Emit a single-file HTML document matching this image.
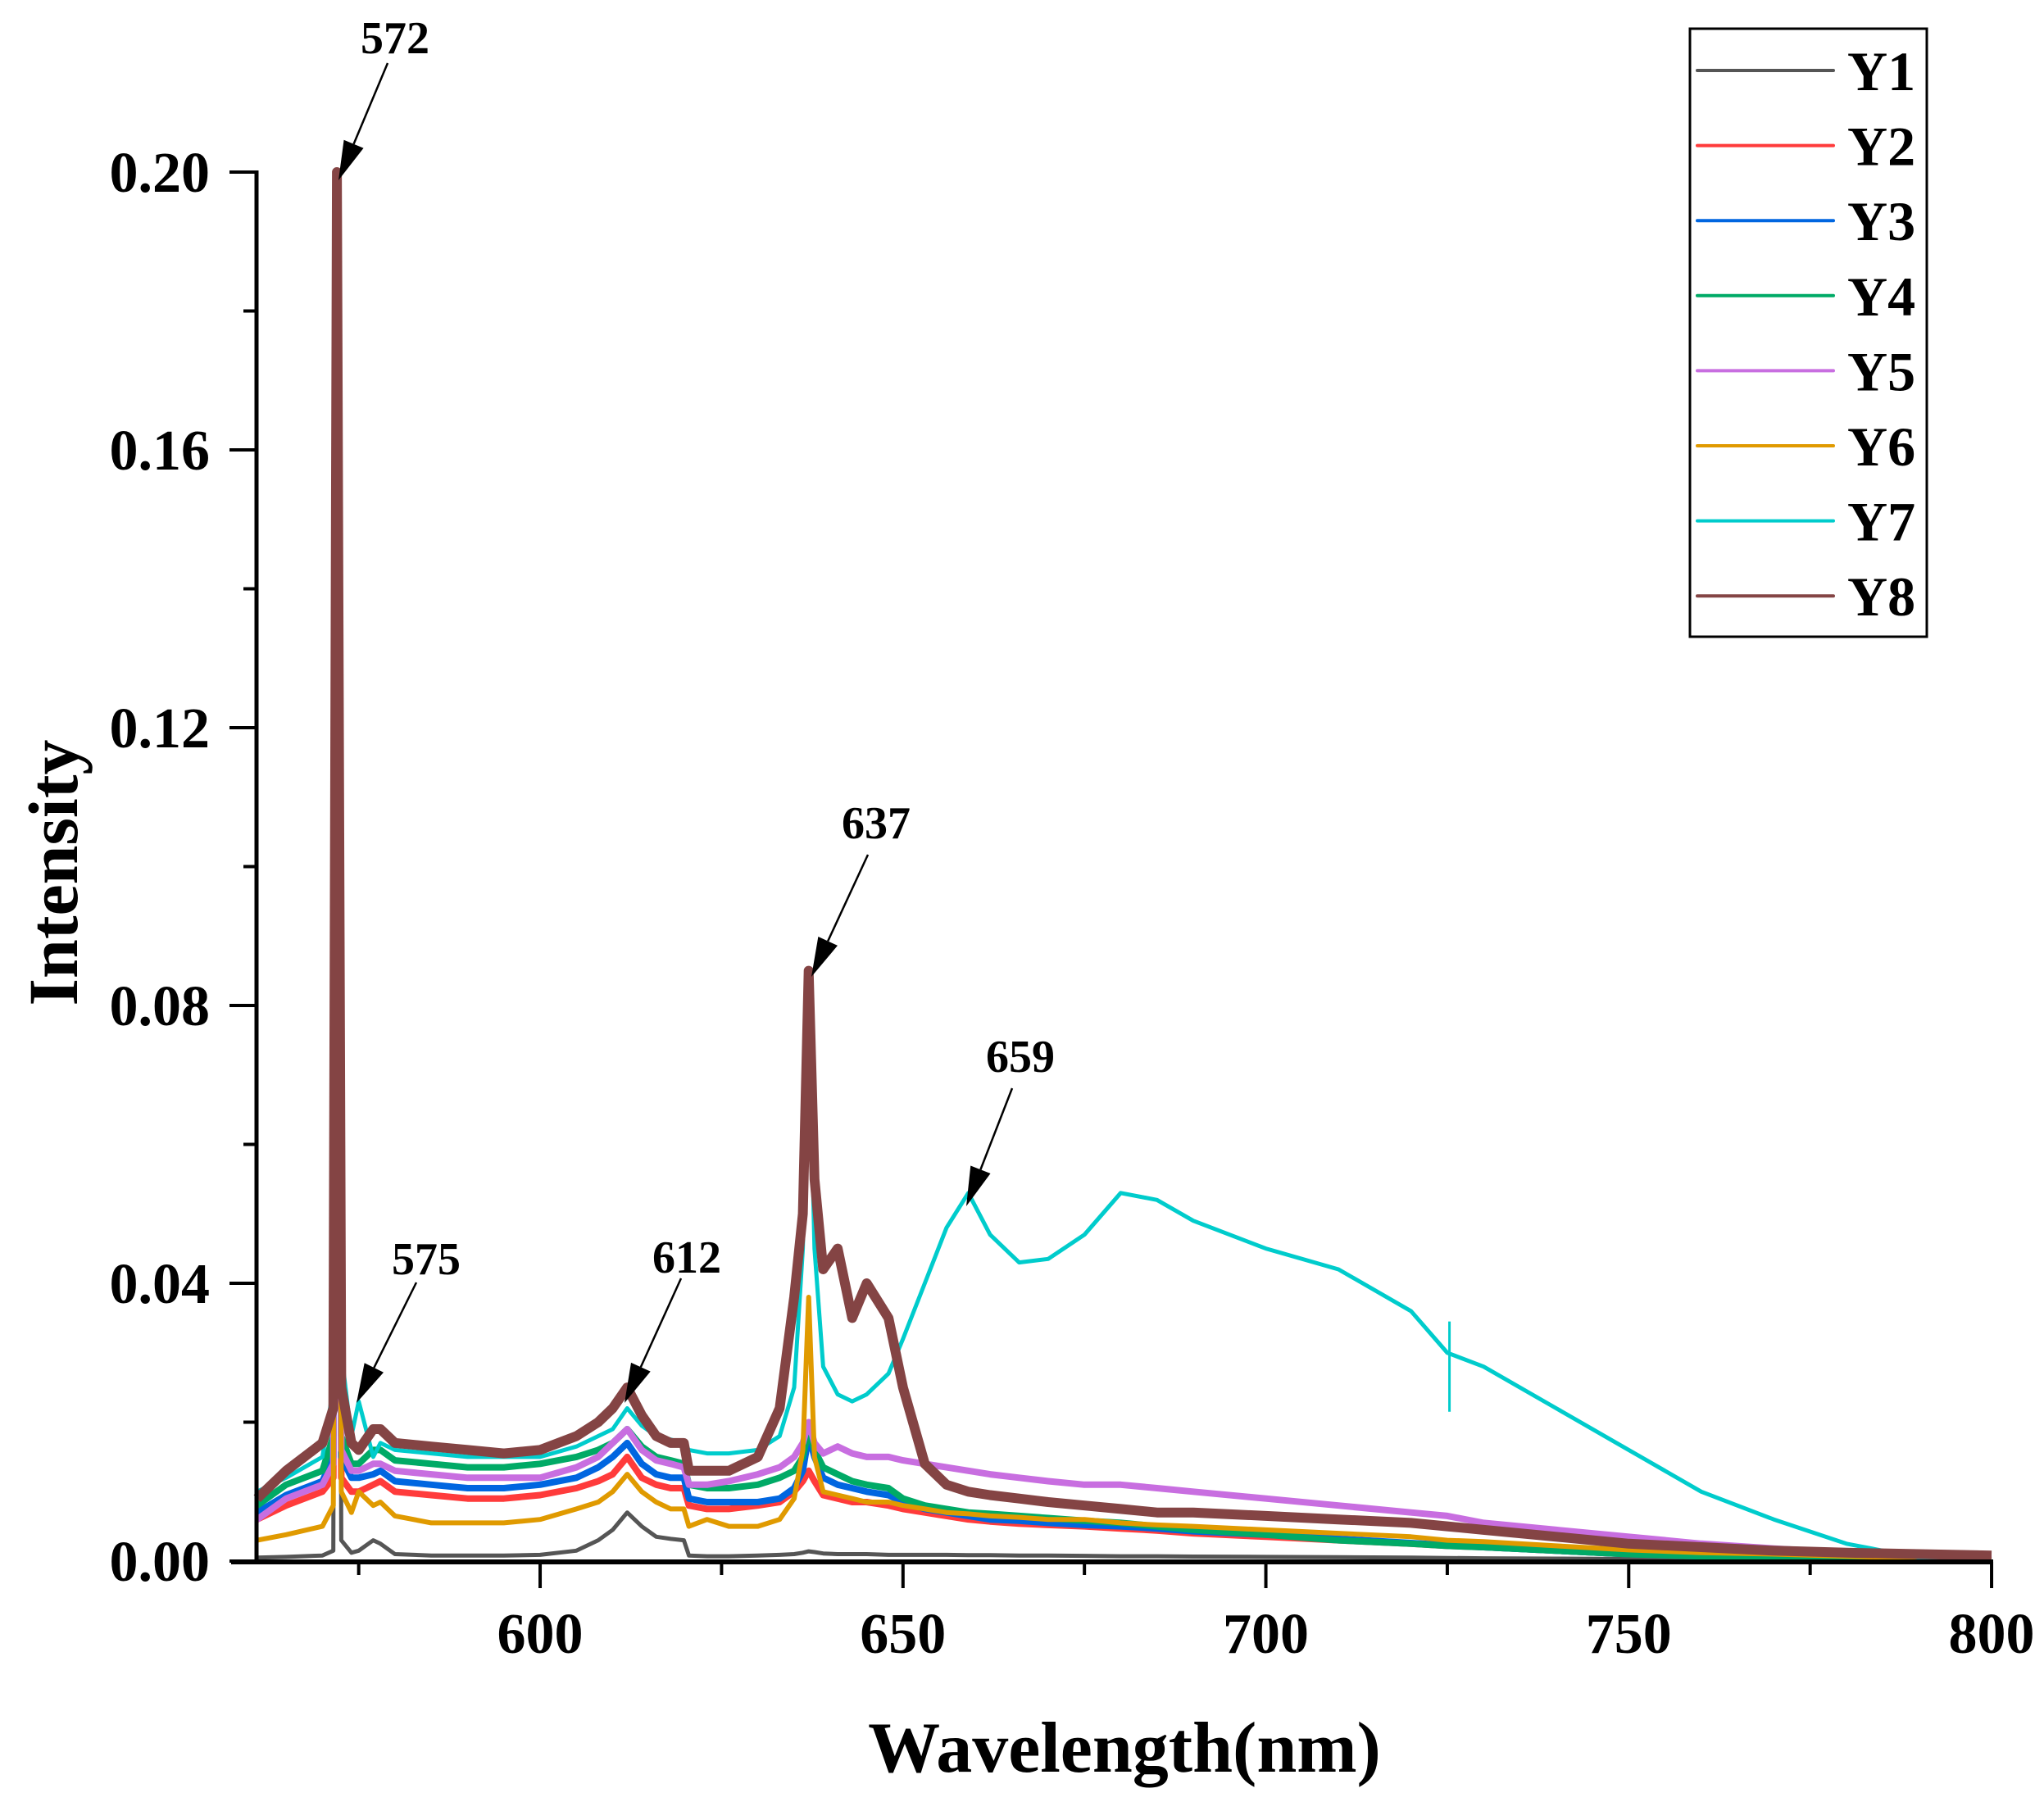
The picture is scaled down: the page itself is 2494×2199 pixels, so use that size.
<!DOCTYPE html>
<html><head><meta charset="utf-8"><style>
html,body{margin:0;padding:0;background:#fff;}
svg{display:block;}
text{font-family:"Liberation Serif",serif;font-weight:bold;fill:#000;}
</style></head><body>
<svg id="chart" width="2494" height="2199" viewBox="0 0 2494 2199" xmlns="http://www.w3.org/2000/svg">
<g id="series"></g>
<g id="axes"></g>
<g id="annotations"></g>
<g id="legend"></g>
</svg>
<script>
const wavelengths=[561,565,570,571.5,572,572.6,574,575,577,578,580,585,590,595,600,605,608,610,612,614,616,618,619.8,620.5,623,626,630,633,635,636.2,637,637.8,639,641,643,645,648,650,653,656,659,662,666,670,675,680,685,690,700,710,720,725,730,740,750,760,770,780,790,800];
// values in units of 0.001
const y1=[0.5,0.6,0.8,1.5,200,3,1.2,1.5,3,2.5,1,0.8,0.8,0.8,0.9,1.5,3,4.5,7,5,3.5,3.2,3,0.8,0.7,0.7,0.8,0.9,1,1.2,1.4,1.3,1.1,1,1,1,0.9,0.9,0.9,0.9,0.85,0.85,0.8,0.8,0.75,0.7,0.7,0.65,0.6,0.55,0.5,0.45,0.4,0.35,0.3,0.25,0.2,0.15,0.1,0.1];
const y2=[6,8,10,12,200,12,10,10,11,11.5,10,9.5,9,9,9.5,10.5,11.5,12.5,15,12,11,10.5,10.5,8,7.5,7.5,8,8.5,10,11.5,13,11.5,9.5,9,8.5,8.5,8,7.5,7,6.5,6,5.7,5.4,5.2,5,4.7,4.4,4,3.5,3,2.5,2.2,2,1.5,1,0.7,0.5,0.3,0.2,0.1];
const y3=[7,9.5,11.5,15,200,15,12,12,12.5,13,11.5,11,10.5,10.5,11,12,13.5,15,17,14,12.5,12,12,9,8.5,8.5,8.5,9,10.5,13,18,15,12,11,10.5,10,9.5,8.5,7.5,7,6.5,6,5.8,5.5,5.2,5,4.7,4.3,3.8,3.2,2.6,2.3,2,1.5,1,0.7,0.5,0.3,0.2,0.1];
const y4=[8,11,13,18,200,18,14,14,16,16,14.5,14,13.5,13.5,14,15,16,17,19,16.5,15,14.5,14,11,10.5,10.5,11,12,13,15,19,16,13.5,12.5,11.5,11,10.5,9,8,7.5,7,6.8,6.5,6.2,5.8,5.5,5,4.5,3.8,3,2.5,2.2,2,1.5,1,0.7,0.5,0.3,0.2,0.1];
const y5=[6,9,11,14,200,16,13,13,14,14,13,12.5,12,12,12,13.5,15,17,19,16,14.5,14,13.5,11,11,11.5,12.5,13.5,15,17,20,17,15.5,16.5,15.5,15,15,14.5,14,13.5,13,12.5,12,11.5,11,11,10.5,10,9,8,7,6.5,5.5,4.5,3.5,2.5,1.8,1.2,0.7,0.3];
const y6=[3,3.8,5,8,200,10,7,10,8,8.5,6.5,5.5,5.5,5.5,6,7.5,8.5,10,12.5,10,8.5,7.5,7.5,5,6,5,5,6,9,16,38,15,10,9.5,9,8.5,8.5,8,7.5,7,6.8,6.5,6.3,6,6,5.5,5.2,5,4.5,4,3.5,3,2.8,2.2,1.6,1.2,1,0.7,0.4,0.2];
const y7=[10,12,15,25,200,30,18,23,15,17,16,15.5,15,15,15,16.5,18,19,22,19.5,18,17.5,17,16,15.5,15.5,16,18,25,45,80,45,28,24,23,24,27,32,40,48,53,47,43,43.5,47,53,52,49,45,42,36,30,28,22,16,10,6,2.5,0.5,0];
const y8=[9,13,17,22,200,25,17,16,19,19,17,16.5,16,15.5,16,18,20,22,25,21,18,17,17,13,13,13,15,22,38,50,85,55,42,45,35,40,35,25,14,11,10,9.5,9,8.5,8,7.5,7,7,6.5,6,5.5,5,4.5,3.5,2.5,2,1.5,1.2,1,0.8];
const seriesNames=["Y1","Y2","Y3","Y4","Y5","Y6","Y7","Y8"];
const seriesColors=["#555555","#ff3b3b","#0066e0","#00aa66","#c86ee0","#e09a00","#00cccc","#844444"];
const xTicks=[600,650,700,750,800];
const xMinor=[575,625,675,725,775];
const yTicks=[0,0.04,0.08,0.12,0.16,0.20];
const yTickLabels=["0.00","0.04","0.08","0.12","0.16","0.20"];
const yMinor=[0.02,0.06,0.10,0.14,0.18];
const peakLabels=["572","575","612","637","659"];

const NS="http://www.w3.org/2000/svg";
const X0=313.7,PX=8.855,XMIN=561;
function xs(w){return X0+(w-XMIN)*PX;}
function ys(v){return 1905-v*8475;}
function mk(tag,attrs,parent){const e=document.createElementNS(NS,tag);for(const k in attrs)e.setAttribute(k,attrs[k]);parent.appendChild(e);return e;}

const gS=document.getElementById('series');
const all=[y1,y2,y3,y4,y5,y6,y7,y8];
const widths=[5,8,8,8,8,6,5,12];
[0,1,2,3,4,5,6,7].forEach(i=>{
  const d=all[i].map((v,j)=>(j?'L':'M')+xs(wavelengths[j]).toFixed(1)+' '+ys(v/1000).toFixed(1)).join(' ');
  const p=mk('path',{d:d,fill:'none',stroke:seriesColors[i],'stroke-width':widths[i],'stroke-linejoin':'round'},gS);
  
  
});
const art=mk('line',{x1:xs(725.3),y1:ys(0.0345),x2:xs(725.3),y2:ys(0.0215),stroke:'#00cccc','stroke-width':3},gS);



const gA=document.getElementById('axes');
const yl=mk('line',{x1:313,y1:208,x2:313,y2:1908,stroke:'#000','stroke-width':5},gA);


const xl=mk('line',{x1:282,y1:1906,x2:2432,y2:1906,stroke:'#000','stroke-width':6},gA);


xTicks.forEach((t,i)=>{
  const l=mk('line',{x1:xs(t),y1:1906,x2:xs(t),y2:1938,stroke:'#000','stroke-width':4},gA);
  
  
  const tx=mk('text',{x:xs(t),y:2017,'text-anchor':'middle','font-size':70},gA);
  tx.textContent=String(t);
  
  
});
xMinor.forEach(t=>{
  const l=mk('line',{x1:xs(t),y1:1906,x2:xs(t),y2:1922,stroke:'#000','stroke-width':4},gA);
  
  
});
yTicks.forEach((t,i)=>{
  const l=mk('line',{x1:280,y1:ys(t),x2:313,y2:ys(t),stroke:'#000','stroke-width':4},gA);
  
  
  const tx=mk('text',{x:256,y:ys(t)+24,'text-anchor':'end','font-size':70},gA);
  tx.textContent=yTickLabels[i];
  
  
});
yMinor.forEach(t=>{
  const l=mk('line',{x1:297,y1:ys(t),x2:313,y2:ys(t),stroke:'#000','stroke-width':4},gA);
  
  
});
const xt=mk('text',{x:1372,y:2162,'text-anchor':'middle','font-size':88},gA);
xt.textContent='Wavelength(nm)';


const yt=mk('text',{x:0,y:0,'text-anchor':'middle','font-size':86,transform:'translate(94,1065) rotate(-90)'},gA);
yt.textContent='Intensity';



const gN=document.getElementById('annotations');
const ann=[[482,65,473,77,413,220],[520,1555,508,1565,435,1712],[838,1553,831,1560,762,1712],[1069,1023,1059,1043,990,1192],[1245,1308,1235,1328,1179,1472]];
peakLabels.forEach((lab,i)=>{
  const a=ann[i];
  const t=mk('text',{x:a[0],y:a[1],'text-anchor':'middle','font-size':56},gN);
  t.textContent=lab;
  
  
  const dx=a[4]-a[2],dy=a[5]-a[3],L=Math.hypot(dx,dy),ux=dx/L,uy=dy/L;
  const hx=a[4]-ux*48,hy=a[5]-uy*48;
  const ln=mk('line',{x1:a[2],y1:a[3],x2:hx,y2:hy,stroke:'#000','stroke-width':2.5},gN);
  
  
  const pg=mk('polygon',{points:`${a[4]},${a[5]} ${hx-uy*13},${hy+ux*13} ${hx+uy*13},${hy-ux*13}`,fill:'#000'},gN);
  
  
});

const gL=document.getElementById('legend');
const box=mk('rect',{x:2062,y:35,width:289,height:742,fill:'#fff',stroke:'#000','stroke-width':3},gL);


seriesNames.forEach((n,i)=>{
  const yy=86+i*91.6;
  const l=mk('line',{x1:2071,y1:yy,x2:2237,y2:yy,stroke:seriesColors[i],'stroke-width':4,'stroke-linecap':'round'},gL);
  
  
  const t=mk('text',{x:2254,y:yy+24,'font-size':68},gL);
  t.textContent=n;
  
  
});
</script>
</body></html>
